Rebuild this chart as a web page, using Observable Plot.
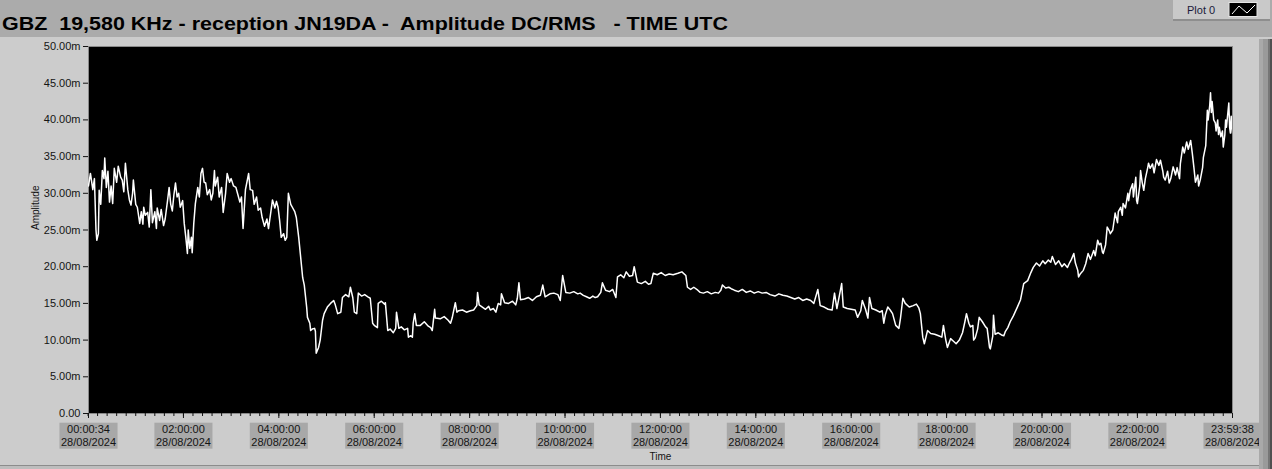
<!DOCTYPE html>
<html>
<head>
<meta charset="utf-8">
<script src="https://cdn.jsdelivr.net/npm/d3@7"></script>
<script src="https://cdn.jsdelivr.net/npm/@observablehq/plot@0.6"></script>
<style>
  html, body { margin: 0; padding: 0; background: #cccccc; }
  #wrap { position: relative; width: 1272px; height: 469px; background: #cccccc; overflow: hidden; font-family: "Liberation Sans", Arial, sans-serif; }
  #header { position: absolute; left: 0; top: 0; width: 1272px; height: 37px; background: #ababab; }
  #legend { position: absolute; left: 1173px; top: 0; width: 97px; height: 19px; background: #c9c9c9; border-bottom: 2px solid #8e8e8e; }
  #chart { position: absolute; left: 0; top: 37px; }
  .strip { position: absolute; top: 39px; height: 430px; }
  #msg { position: absolute; left: 300px; top: 100px; color: red; font-size: 20px; }
</style>
</head>
<body>
<div id="wrap">
  <div id="header">
    <svg width="1272" height="37">
      <text id="title" x="2" y="30" textLength="726" lengthAdjust="spacingAndGlyphs"
        style="font-family:'Liberation Sans',Arial,sans-serif;font-weight:bold;font-size:17.5px;fill:#000;white-space:pre" xml:space="preserve"></text>
    </svg>
  </div>
  <div id="legend">
    <svg width="97" height="19">
      <text x="14" y="14" style="font-family:'Liberation Sans',Arial,sans-serif;font-size:11px;fill:#1a1a3a">Plot 0</text>
      <rect x="56" y="2.5" width="28" height="14" fill="#000" stroke="#e6e6e6" stroke-width="1"></rect>
      <polyline points="59,14 66,6 74,13 82,5" fill="none" stroke="#fff" stroke-width="1"></polyline>
    </svg>
  </div>
  <div id="chart"></div>
  <div class="strip" style="left:1259px;width:4px;background:#a9a9a9"></div>
  <div class="strip" style="left:1263px;width:5px;background:#9a9a9a"></div>
  <div class="strip" style="left:1268px;width:2px;background:#767676"></div>
  <div class="strip" style="left:1270px;width:2px;background:#505050"></div>
  <div style="position:absolute;left:0;top:465px;width:1259px;height:1px;background:#8c8c8c"></div>
  <div style="position:absolute;left:0;top:466px;width:1259px;height:3px;background:#bdbdbd"></div>
  <div id="msg"></div>
</div>
<script>
const titleText = "GBZ  19,580 KHz - reception JN19DA -  Amplitude DC/RMS   - TIME UTC";
const yLabel = "Amplitude";
const xLabel = "Time";

// time of each sample, minutes after 00:00 UTC on 28/08/2024
const minutes = [0.57,3,6,8,10,11,13,14,16,18,20,21,23,25,27,29,31,33,36,38,41,43,45,47,50,52,54,56,57,60,62,65,67,69,70,72,75,77,79,81,84,86,87,90,92,95,97,100,102,104,106,108,110,112,114,116,119,121,123,125,126,128,130,131,133,135,138,140,142,144,146,148,150,153,155,157,159,160,163,165,168,170,173,175,178,180,183,186,188,191,193,195,198,202,204,207,209,212,214,217,219,222,225,227,230,232,235,237,239,241,243,246,248,250,252,255,257,260,262,265,267,270,272,275,276,279,280,282,285,286,287,290,292,295,297,301,305,309,311,314,318,320,324,328,330,333,335,338,340,344,348,352,355,358,360,364,365,369,373,374,377,380,384,387,388,391,394,398,402,403,406,408,409,411,413,418,423,428,431,433,436,437,443,448,453,456,458,462,464,466,471,476,481,485,489,490,492,496,500,504,506,510,513,516,519,520,524,529,534,538,540,542,544,549,554,559,564,569,572,575,581,586,591,594,597,601,606,611,616,619,623,627,631,635,638,641,645,647,651,656,660,664,666,670,674,677,681,685,687,691,696,701,705,708,711,716,721,726,731,736,742,747,752,754,758,762,767,770,774,779,784,789,793,796,798,802,806,809,813,818,823,828,833,838,843,848,853,858,864,869,874,879,884,889,894,899,904,909,913,918,921,926,931,936,939,942,948,950,955,960,965,968,972,974,978,981,983,986,991,996,999,1001,1003,1006,1009,1012,1016,1020,1022,1025,1028,1033,1038,1042,1045,1047,1050,1052,1056,1060,1065,1070,1074,1076,1079,1081,1085,1089,1092,1096,1100,1103,1105,1108,1110,1113,1114,1116,1119,1121,1125,1129,1131,1134,1135,1138,1139,1141,1145,1149,1152,1154,1157,1160,1164,1169,1173,1177,1182,1186,1189,1193,1197,1201,1204,1208,1211,1213,1217,1221,1225,1228,1232,1235,1237,1240,1242,1245,1246,1248,1252,1255,1258,1261,1265,1267,1270,1272,1274,1276,1277,1280,1282,1285,1286,1289,1291,1292,1295,1296,1299,1301,1302,1305,1308,1309,1311,1314,1315,1318,1319,1320,1323,1324,1326,1328,1330,1333,1334,1336,1339,1341,1344,1347,1349,1352,1353,1355,1358,1360,1362,1365,1368,1370,1373,1374,1377,1379,1382,1384,1387,1389,1391,1393,1396,1397,1399,1402,1403,1406,1408,1409,1411,1412,1413,1414,1416,1418,1419,1421,1422,1423,1425,1427,1428,1430,1431,1432,1435,1436,1437,1438,1439.6];

// amplitude, millivolts (DC/RMS)
const amplitude = [31.0,32.7,30.5,32.0,25.0,23.6,24.5,30.4,28.5,33.1,32.0,34.8,30.8,33.0,28.8,31.0,28.6,33.4,31.5,33.7,32.2,31.8,30.2,34.1,30.5,29.1,28.4,30.0,31.8,28.5,28.1,25.9,27.5,25.8,28.1,27.0,27.4,25.4,30.5,26.0,27.5,25.2,28.0,26.3,27.8,25.6,26.5,29.0,30.8,28.5,27.6,29.8,31.4,29.5,30.0,28.1,29.0,25.9,24.0,21.8,25.0,22.5,24.0,21.9,25.9,28.6,30.8,29.5,32.7,33.4,31.5,31.4,29.8,30.5,29.1,30.0,33.1,31.0,32.2,29.5,30.8,27.4,30.0,32.7,31.5,32.0,31.0,30.8,30.0,28.8,29.5,25.2,30.5,32.7,30.5,30.4,28.5,29.5,27.7,28.0,26.7,25.5,26.5,25.2,27.5,29.1,28.0,28.9,28.1,26.3,24.0,24.5,23.6,24.0,30.0,28.5,28.1,27.5,26.7,24.0,21.8,18.5,17.5,14.5,13.1,12.3,11.3,11.5,11.6,11.2,8.2,9.0,10.0,12.7,13.6,14.5,15.0,15.4,14.8,13.6,13.8,15.8,16.2,15.9,17.2,15.8,13.8,13.6,16.4,16.0,16.2,15.9,15.7,12.3,12.0,11.7,15.0,15.3,14.9,15.1,11.3,11.5,11.0,11.6,13.8,11.6,11.8,11.4,11.6,10.4,10.6,10.4,12.3,13.6,12.0,12.0,12.5,11.9,11.7,11.3,14.2,13.0,12.9,13.2,12.7,12.3,13.0,15.1,13.8,14.0,14.1,13.8,14.0,14.1,14.7,16.5,14.8,14.5,14.2,14.6,14.1,14.3,13.8,15.0,14.8,16.3,15.1,15.0,15.3,14.8,15.7,17.8,15.5,15.6,15.8,15.4,15.9,16.1,17.5,15.9,16.3,16.4,16.2,15.4,18.8,16.5,16.4,16.6,16.3,16.4,16.1,15.9,15.7,16.0,15.8,15.9,16.5,17.8,16.8,16.6,16.9,15.8,18.6,18.9,18.5,19.3,18.7,18.8,20.0,17.9,17.7,18.0,17.6,17.7,19.1,18.9,19.2,18.8,19.0,18.9,19.1,19.3,18.8,17.2,16.9,17.2,16.8,16.5,16.4,16.6,16.3,16.5,16.4,16.8,17.5,17.1,17.2,17.0,16.8,16.6,16.9,16.5,16.7,16.4,16.6,16.4,16.5,16.2,16.0,16.3,16.1,16.0,15.8,15.6,15.8,15.4,15.6,15.4,15.0,16.9,14.7,14.5,14.2,14.1,16.4,14.3,17.7,14.5,14.3,14.2,14.1,13.1,14.0,15.4,14.2,13.0,15.8,14.3,14.1,13.8,14.0,12.3,13.5,14.5,14.1,13.6,12.0,11.6,13.0,15.7,15.0,14.5,14.7,14.9,14.4,13.6,10.4,9.5,11.3,10.9,10.8,10.6,10.4,12.0,10.0,9.0,10.2,9.8,9.5,10.0,11.0,12.5,13.6,12.3,11.8,12.0,10.0,10.3,11.5,13.1,12.5,11.8,11.6,9.0,8.8,10.5,13.4,10.8,11.0,10.7,10.6,11.2,11.7,12.5,13.3,14.5,15.5,17.7,18.1,19.2,19.9,20.5,20.1,20.8,20.4,20.9,20.6,21.4,20.3,20.8,20.0,20.4,19.9,20.6,21.0,21.8,20.5,19.5,18.6,19.0,19.5,20.4,21.8,21.0,22.2,21.5,23.6,23.0,23.2,22.0,21.8,23.0,25.4,24.8,24.5,25.0,26.5,27.3,26.0,27.5,28.1,27.0,28.6,28.0,30.0,29.0,30.4,31.3,29.5,32.2,29.0,28.6,31.0,33.1,31.5,30.4,32.0,33.5,34.1,33.4,34.0,32.8,34.6,33.8,34.5,33.0,32.2,31.8,33.0,31.4,32.0,33.6,32.5,33.5,32.0,34.0,36.3,35.5,37.0,36.0,37.2,35.5,33.6,31.5,32.5,31.0,31.8,33.5,34.9,36.5,41.3,40.0,42.0,43.7,41.0,42.5,40.0,39.6,38.5,40.0,38.0,39.0,37.7,38.5,36.3,38.0,40.0,39.0,42.3,39.0,38.2,40.5,38.2];

const yTicks = [0, 5, 10, 15, 20, 25, 30, 35, 40, 45, 50];
const xTickMinutes = [0.57, 120, 240, 360, 480, 600, 720, 840, 960, 1080, 1200, 1320, 1439.63];
const xTickTimes = ["00:00:34","02:00:00","04:00:00","06:00:00","08:00:00","10:00:00","12:00:00","14:00:00","16:00:00","18:00:00","20:00:00","22:00:00","23:59:38"];
const xTickDate = "28/08/2024";
const xMinorStep = 12; // minutes between minor ticks

document.getElementById("title").textContent = titleText;

const n = Math.min(minutes.length, amplitude.length);
if (minutes.length !== amplitude.length) {
  document.getElementById("msg").textContent = "length mismatch " + minutes.length + " vs " + amplitude.length;
}
const samples = d3.range(n).map(i => ({t: minutes[i], a: amplitude[i]}));
const minorTicks = d3.range(0, 1440, xMinorStep);

const chart = Plot.plot({
  width: 1272,
  height: 432,
  marginLeft: 88,
  marginRight: 40,
  marginTop: 9,
  marginBottom: 56,
  style: {background: "#cccccc", fontFamily: "'Liberation Sans', Arial, sans-serif", fontSize: "11px", color: "#141414", overflow: "visible"},
  x: {domain: [0.57, 1439.63], label: null},
  y: {domain: [0, 50], label: null},
  marks: [
    Plot.frame({fill: "#000000", stroke: "#8a8a8a"}),
    Plot.line(samples, {x: "t", y: "a", stroke: "#ffffff", strokeWidth: 1.5, clip: true}),
    Plot.axisY({ticks: yTicks, tickSize: 5, tickPadding: 3, label: null,
      tickFormat: v => v === 0 ? "0.00" : v.toFixed(2) + "m", fontSize: 11}),
    Plot.axisX({ticks: minorTicks, tickSize: 3, tickFormat: () => "", label: null}),
    Plot.axisX({ticks: xTickMinutes, tickSize: 5, tickFormat: () => "", label: null}),
    Plot.text(xTickMinutes, {x: d => d, text: (d, i) => xTickTimes[i] + "\n" + xTickDate,
      frameAnchor: "bottom", lineAnchor: "top", dy: 10, lineHeight: 1.18, fill: "#141414", fontSize: 11}),
    Plot.text([xLabel], {frameAnchor: "bottom", dy: 46, fontSize: 10, fill: "#141414"}),
    Plot.text([yLabel], {frameAnchor: "left", dx: -53, rotate: -90, fontSize: 10, fill: "#141414"})
  ]
});
document.getElementById("chart").append(chart);

// grey boxes behind the time axis labels
d3.select(chart).selectAll("text").each(function() {
  if (!this.textContent.includes(xTickDate)) return;
  const b = this.getBBox();
  const r = document.createElementNS("http://www.w3.org/2000/svg", "rect");
  r.setAttribute("x", b.x - 1.5);
  r.setAttribute("y", b.y);
  r.setAttribute("width", b.width + 3);
  r.setAttribute("height", b.height + 1);
  r.setAttribute("fill", "#a8a8a8");
  const tr = this.getAttribute("transform");
  if (tr) r.setAttribute("transform", tr);
  this.parentNode.insertBefore(r, this);
});
</script>
</body>
</html>
